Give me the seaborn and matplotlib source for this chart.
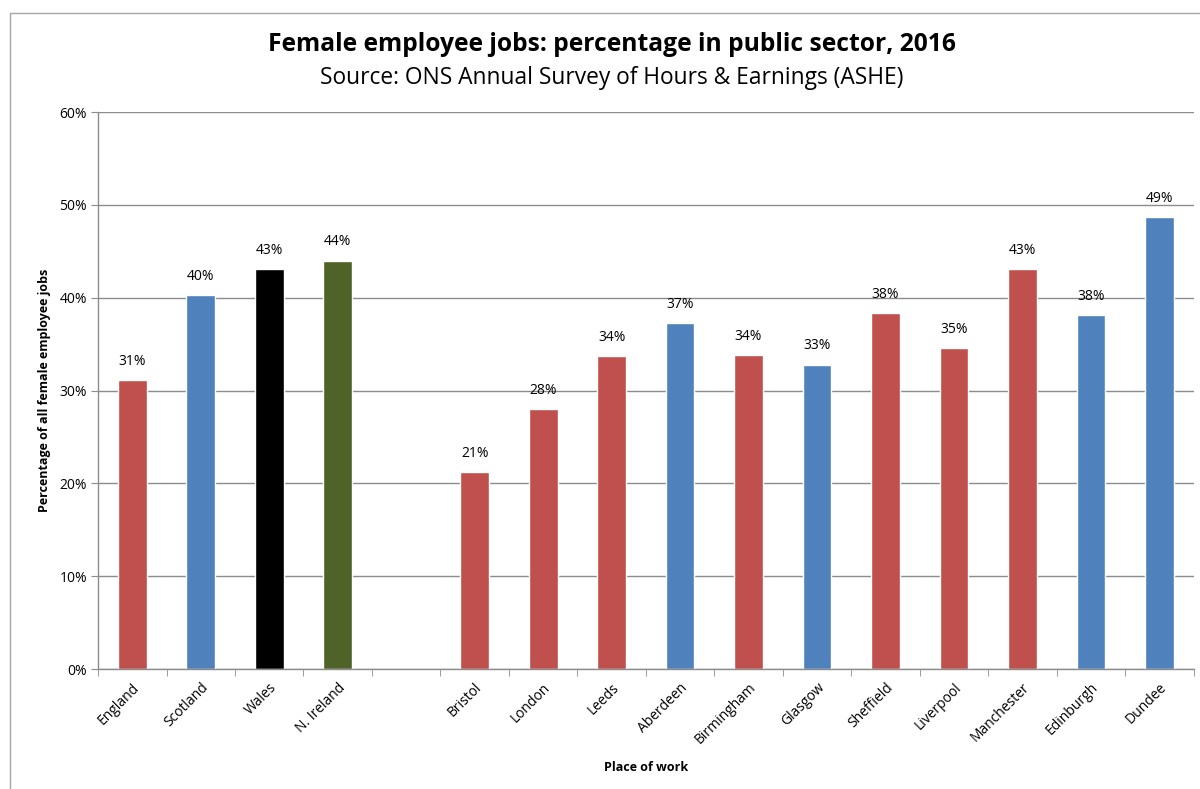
import matplotlib
matplotlib.use("Agg")
import matplotlib.pyplot as plt
import seaborn as sns
import pandas as pd
from matplotlib.ticker import FuncFormatter, MultipleLocator, FixedLocator
from matplotlib.patches import Rectangle

# data
places = ["England", "Scotland", "Wales", "N. Ireland", " ",
          "Bristol", "London", "Leeds", "Aberdeen", "Birmingham", "Glasgow",
          "Sheffield", "Liverpool", "Manchester", "Edinburgh", "Dundee"]
share = [31.1, 40.3, 43.1, 44.0, None,
         21.2, 28.0, 33.7, 37.3, 33.8, 32.8,
         38.3, 34.6, 43.1, 38.1, 48.7]
bar_colours = ["#C0504D", "#4F81BD", "#000000", "#4F6228", "#FFFFFF",
               "#C0504D", "#C0504D", "#C0504D", "#4F81BD", "#C0504D", "#4F81BD",
               "#C0504D", "#C0504D", "#C0504D", "#4F81BD", "#4F81BD"]

df = pd.DataFrame({"place": places, "share": share}).dropna()
palette = dict(zip(places, bar_colours))

sns.set_style("white")
plt.rcParams["font.family"] = ["Open Sans", "DejaVu Sans"]
plt.rcParams["text.color"] = "black"
plt.rcParams["axes.labelcolor"] = "black"
plt.rcParams["xtick.labelcolor"] = "black"
plt.rcParams["ytick.labelcolor"] = "black"

fig = plt.figure(figsize=(12, 7.89), dpi=100)
ax = fig.add_axes([0.0817, 0.152, 0.913, 0.706])

sns.barplot(data=df, x="place", y="share", hue="place", order=places,
            palette=palette, width=0.42, legend=False, saturation=1, ax=ax)

ax.set_ylim(0, 60)
ax.set_xlim(-0.5, len(places) - 0.5)
ax.yaxis.set_major_locator(MultipleLocator(10))
ax.yaxis.set_major_formatter(FuncFormatter(lambda v, p: f"{v:.0f}%"))
ax.grid(axis="y", color="#8C8C8C", linewidth=1)
ax.set_axisbelow(True)
for s in ["top", "right"]:
    ax.spines[s].set_visible(False)
for s in ["left", "bottom"]:
    ax.spines[s].set_color("#8C8C8C")
    ax.spines[s].set_linewidth(1)

ax.tick_params(axis="y", length=5, color="#8C8C8C", labelsize=10, pad=3, left=True)
ax.tick_params(axis="x", which="major", length=0, labelsize=10, pad=8)
ax.xaxis.set_minor_locator(FixedLocator([i - 0.5 for i in range(len(places) + 1)]))
ax.tick_params(axis="x", which="minor", length=5, color="#8C8C8C", bottom=True)
for lab in ax.get_xticklabels():
    lab.set_rotation(45)
    lab.set_ha("right")
    lab.set_rotation_mode("anchor")

# value labels
for i, v in enumerate(share):
    if v is not None:
        ax.annotate(f"{v:.0f}%", (i, v), xytext=(0, 8), textcoords="offset points",
                    ha="center", va="bottom", fontsize=10)

ax.set_xlabel("Place of work", fontsize=9, fontweight="bold", labelpad=10)
ax.set_ylabel("Percentage of all female employee jobs", fontsize=9, fontweight="bold", labelpad=6)

fig.text(0.51, 0.943, "Female employee jobs: percentage in public sector, 2016",
         ha="center", va="center", fontsize=17.7, fontweight="bold")
fig.text(0.51, 0.901, "Source: ONS Annual Survey of Hours & Earnings (ASHE)",
         ha="center", va="center", fontsize=16.4)

fig.patches.append(Rectangle((10 / 1200, -0.01), 1.2, 1 - 13 / 789 + 0.01,
                             transform=fig.transFigure, fill=False,
                             edgecolor="#A6A6A6", linewidth=1))

fig.savefig("out.png", dpi=100, facecolor="white")
